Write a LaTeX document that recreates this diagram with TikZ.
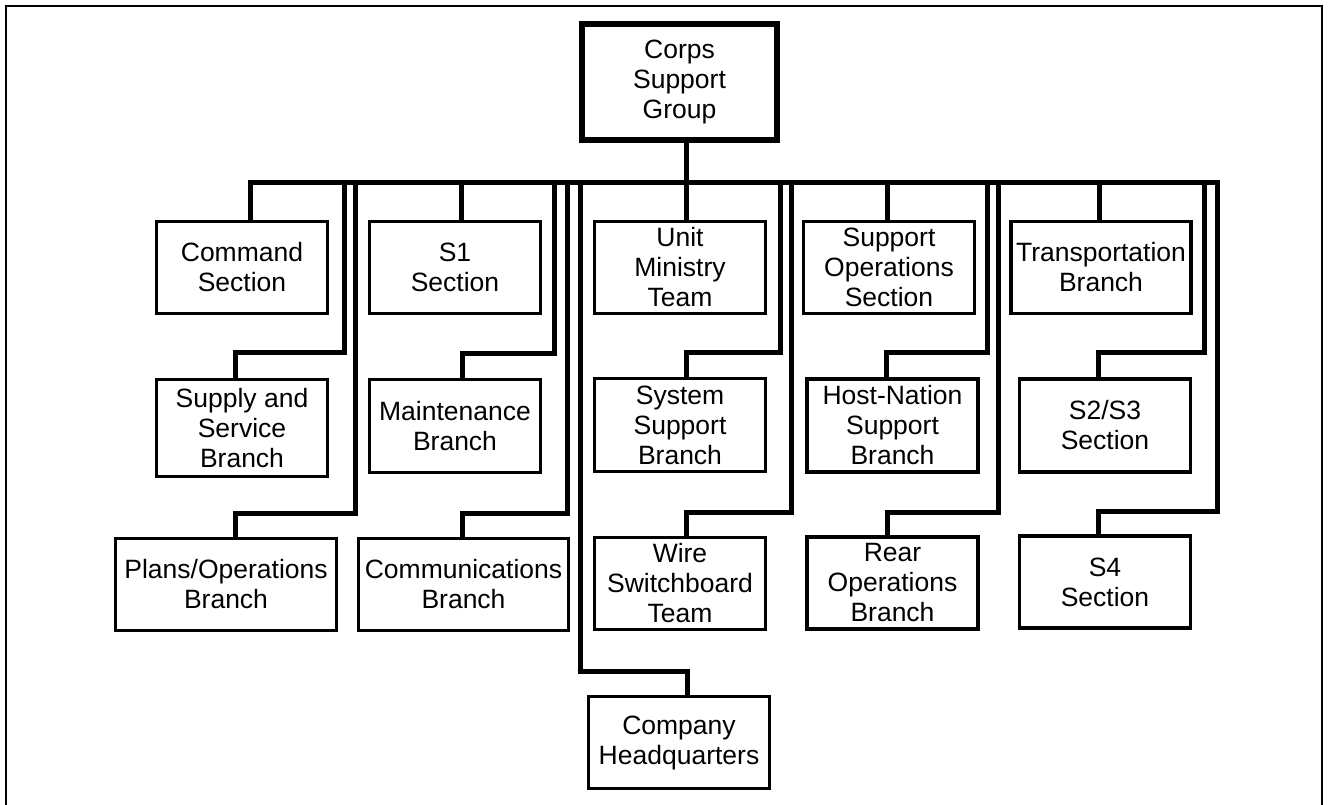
\documentclass[tikz,border=0pt]{standalone}
\usepackage{fontspec}
\setmainfont{Liberation Sans}
\begin{document}
\begin{tikzpicture}[x=1pt,y=-1pt,
  unitbox/.style={draw, line width=3.5pt, rectangle, inner sep=0pt, outer sep=0pt,
    minimum width=171pt, minimum height=92pt, align=center,
    font=\fontsize{26.5}{30}\selectfont},
  topbox/.style={unitbox, line width=6pt, minimum width=195pt, minimum height=116pt},
  link/.style={line width=5pt, line join=miter},
  frame/.style={line width=2pt}
]
\useasboundingbox (0,0) rectangle (1328,804);

% outer frame
\coordinate (fbl) at (6,806);
\coordinate (ftl) at (6,6);
\coordinate (ftr) at (1322,6);
\coordinate (fbr) at (1322,806);
\draw[frame] (fbl) -- (ftl) -- (ftr) -- (fbr);

% top of the chart
\node[topbox] (corps) at (679.5,82) {Corps\\Support\\Group};

% first row
\node[unitbox] (cmd) at (242,267.5) {Command\\Section};
\node[unitbox] (s1)  at (455,267.5) {S1\\Section};
\node[unitbox] (um)  at (680,267.5) {Unit\\Ministry\\Team};
\node[unitbox] (so)  at (889,267.5) {Support\\Operations\\Section};
\node[unitbox, minimum width=180pt] (tr) at (1101,267.5) {Transportation\\Branch};

% second row
\node[unitbox, minimum height=97pt] (ss) at (242,428) {Supply and\\Service\\Branch};
\node[unitbox, minimum height=93pt] (mt)  at (455,426) {Maintenance\\Branch};
\node[unitbox, minimum height=93pt] (sys) at (680,425) {System\\Support\\Branch};
\node[unitbox, minimum height=93pt] (hn)  at (892.5,425.5) {Host-Nation\\Support\\Branch};
\node[unitbox, minimum height=93pt] (s23) at (1105,425.5) {S2/S3\\Section};

% third row
\node[unitbox, minimum width=221pt] (po) at (226,584.5) {Plans/Operations\\Branch};
\node[unitbox, minimum width=210pt] (cm) at (463.5,584.5) {Communications\\Branch};
\node[unitbox] (ws) at (680,583.5) {Wire\\Switchboard\\Team};
\node[unitbox] (ro) at (892.5,583) {Rear\\Operations\\Branch};
\node[unitbox] (s4) at (1105,582) {S4\\Section};

% bottom
\node[unitbox, minimum width=181pt] (chq) at (679,742.5) {Company\\Headquarters};

% drop points on the main bus
\coordinate (tss)  at (344,182);
\coordinate (tpo)  at (355,182);
\coordinate (tmt)  at (554,182);
\coordinate (tcm)  at (567,182);
\coordinate (tchq) at (580,182);
\coordinate (tsys) at (780,182);
\coordinate (tws)  at (791,182);
\coordinate (thn)  at (987,182);
\coordinate (tro)  at (998,182);
\coordinate (ts23) at (1204,182);
\coordinate (ts4)  at (1217,182);

% trunk from the group down through the bus
\draw[link] ([xshift=6.5]corps.south) -- ([xshift=6]um.north);

% main bus, ending in the S4 drop
\draw[link] ([xshift=8]cmd.north) |- (ts4)
  |- ([shift={(-7,-25)}]s4.north) -- ([xshift=-7]s4.north);

% first row drops
\draw[link] ([xshift=6]s1.north |- ts4) -- ([xshift=6]s1.north);
\draw[link] ([xshift=-2]so.north |- ts4) -- ([xshift=-2]so.north);
\draw[link] ([xshift=-2]tr.north |- ts4) -- ([xshift=-2]tr.north);

% second row drops
\draw[link] (tss)  |- ([shift={(-7,-27)}]ss.north)   -- ([xshift=-7]ss.north);
\draw[link] (tmt)  |- ([shift={(7,-26)}]mt.north)    -- ([xshift=7]mt.north);
\draw[link] (tsys) |- ([shift={(6,-26)}]sys.north)   -- ([xshift=6]sys.north);
\draw[link] (thn)  |- ([shift={(-6.5,-27)}]hn.north) -- ([xshift=-6.5]hn.north);
\draw[link] (ts23) |- ([shift={(-7,-27)}]s23.north)  -- ([xshift=-7]s23.north);

% third row drops
\draw[link] (tpo) |- ([shift={(9,-25)}]po.north)    -- ([xshift=9]po.north);
\draw[link] (tcm) |- ([shift={(-1.5,-25)}]cm.north) -- ([xshift=-1.5]cm.north);
\draw[link] (tws) |- ([shift={(6,-25)}]ws.north)    -- ([xshift=6]ws.north);
\draw[link] (tro) |- ([shift={(-5.5,-25)}]ro.north) -- ([xshift=-5.5]ro.north);

% company headquarters drop
\draw[link] (tchq) |- ([shift={(8,-25)}]chq.north) -- ([xshift=8]chq.north);
\end{tikzpicture}
\end{document}
